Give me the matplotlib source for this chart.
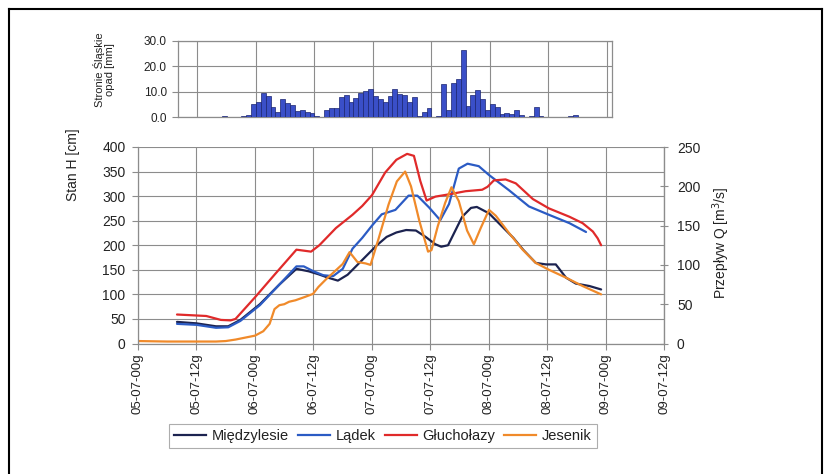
import matplotlib
matplotlib.use("Agg")
import matplotlib.pyplot as plt
import numpy as np
from matplotlib.lines import Line2D

plt.rcParams['font.family'] = ['Liberation Sans', 'DejaVu Sans']

# ---------------- data (hours since 05-07 00:00) ----------------
tick_labels = ["05-07-00g", "05-07-12g", "06-07-00g", "06-07-12g", "07-07-00g",
               "07-07-12g", "08-07-00g", "08-07-12g", "09-07-00g", "09-07-12g"]
tick_hours = [0, 12, 24, 36, 48, 60, 72, 84, 96, 108]

# hourly precipitation, Stronie Śląskie [mm]; first bar covers hour 8-9
precip_start_hour = 8
precip_mm = [0, 0.3, 0.3, 0, 0, 0, 0, 0, 0, 0.4, 0, 0, 0, 0.4, 0.8,
             5.1, 6.0, 9.6, 8.4, 3.9, 2.1, 7.0, 5.5, 4.7, 2.5, 2.8, 2.1, 1.7, 0.5, 0.3,
             2.9, 3.8, 3.5, 8.1, 8.9, 6.1, 7.4, 9.6, 10.3, 11.1, 8.4, 7.2, 6.1, 8.3,
             11.1, 9.3, 8.6, 5.9, 8.0, 0.6, 1.9, 3.7, 0.1, 0.7, 13.0, 3.0, 13.3, 15.0,
             26.5, 4.4, 8.8, 10.5, 7.3, 2.8, 5.4, 4.2, 1.4, 1.5, 1.2, 2.7, 0.8, 0,
             0.5, 4.0, 0.5, 0.1, 0.1, 0, 0.3, 0, 0.7, 0.8]

miedzylesie_h = [8, 12, 16, 18.5, 21, 25, 29, 32.5, 35, 37, 39, 41, 43, 45, 47, 49, 51, 53,
                 55, 57, 59, 61, 62.2, 63.6, 65, 66.5, 68.3, 69.5, 72, 74.7, 77, 79, 81.6,
                 83.7, 85.7, 87.8, 89.8, 92.6, 95]
miedzylesie_v = [44, 41, 35, 35, 48, 80, 120, 152, 147, 141, 134, 128, 140, 160, 180, 200,
                 217, 226, 231, 230, 217, 202, 197, 200, 228, 258, 276, 278, 265, 238, 215,
                 191, 164, 161, 161, 134, 122, 117, 110]

ladek_h = [8, 12, 16, 18.5, 21, 25, 29, 32.5, 34, 36, 38, 40, 42, 44, 46, 48, 50, 52.8,
           55.5, 57.3, 59.7, 62, 63.8, 65.8, 67.6, 69.9, 72, 76.1, 80.2, 84.3, 88.5, 91.9]
ladek_v = [40, 38, 32, 33, 46, 78, 120, 157, 157, 147, 139, 137, 152, 193, 215, 240, 263,
           272, 301, 301, 277, 251, 284, 356, 366, 361, 343, 312, 279, 262, 245, 227]

glucholazy_h = [8, 12, 14, 17, 19, 20, 24, 28, 32.5, 34, 35.5, 37.2, 40.6, 44, 46, 48, 50.7,
                53, 55.2, 56.6, 57.9, 59.2, 61, 64, 67.2, 70.6, 71.7, 73, 75.4, 77.5, 81,
                84.3, 88.5, 91.2, 93.3, 94.3, 95]
glucholazy_v = [59, 57, 56, 48, 47, 50, 94, 140, 191, 189, 187, 200, 235, 262, 280, 302,
                348, 374, 386, 382, 331, 291, 299, 304, 310, 313, 319, 332, 334, 326, 294,
                275, 258, 245, 228, 214, 200]

jesenik_h = [0, 6, 12, 16, 18, 20, 22, 24, 25.7, 27, 28, 29, 30, 31, 32.3, 34.3, 35.9, 37,
             38.6, 40.7, 42, 43.4, 45, 46.7, 47.7, 49.4, 51.4, 53.1, 54.8, 56, 57.7, 59.5,
             60.2, 61.5, 63, 64.3, 65.8, 67.5, 68.9, 70.3, 72, 73.4, 76.1, 78.9, 81.6, 84.3,
             87.8, 91.2, 95]
jesenik_v = [5, 4, 4, 4, 5, 8, 12, 16, 25, 40, 70, 78, 80, 85, 88, 95, 101, 115, 131, 150,
             162, 186, 166, 163, 160, 215, 283, 330, 350, 320, 250, 187, 190, 239, 286, 318,
             290, 230, 202, 235, 272, 260, 225, 191, 164, 150, 134, 117, 100]

series = [("Międzylesie", miedzylesie_h, miedzylesie_v, "#1c2350"),
          ("Lądek", ladek_h, ladek_v, "#2b5bc4"),
          ("Głuchołazy", glucholazy_h, glucholazy_v, "#e02a2a"),
          ("Jesenik", jesenik_h, jesenik_v, "#f08a2a")]

# ---------------- figure ----------------
W, H = 828, 474
fig = plt.figure(figsize=(W / 100, H / 100), dpi=100)
fig.patch.set_facecolor("white")

def fx(px):
    return px / W

def fy(py):
    return 1 - py / H

grid_c = "#8c8c8c"
spine_c = "#8c8c8c"
text_c = "#222222"

# main axes
ax = fig.add_axes([fx(138), fy(343.5), fx(664.5) - fx(138), fy(147) - fy(343.5)])
for name, hh, vv, c in series:
    ax.plot(hh, vv, color=c, lw=1.6, label=name, solid_capstyle="round")
ax.set_xlim(0, 108)
ax.set_ylim(0, 400)
ax.set_yticks(np.arange(0, 401, 50))
ax.set_xticks(tick_hours)
ax.set_xticklabels(tick_labels, rotation=90, fontsize=9.5, color=text_c)
ax.tick_params(axis="y", labelsize=10, length=4, color=spine_c, pad=5, labelcolor=text_c)
ax.tick_params(axis="x", length=4, color=spine_c, pad=3)
ax.grid(True, color=grid_c, lw=0.8)
ax.set_axisbelow(True)
ax.spines["top"].set_visible(False)
for s in ["left", "bottom", "right"]:
    ax.spines[s].set_color(spine_c)
    ax.spines[s].set_linewidth(0.9)

ax2 = ax.twinx()
ax2.set_ylim(0, 250)
ax2.set_yticks(np.arange(0, 251, 50))
ax2.tick_params(axis="y", labelsize=10, length=6, direction="inout", color=spine_c, pad=6,
                labelcolor=text_c)
ax2.spines["top"].set_visible(False)
ax2.spines["right"].set_color(spine_c)
ax2.spines["left"].set_visible(False)
ax2.spines["bottom"].set_visible(False)

fig.text(fx(73), fy(165), "Stan H [cm]", rotation=90, ha="center", va="center", fontsize=10,
         color=text_c)
fig.text(fx(721), fy(243), "Przepływ Q [m$^3$/s]", rotation=90, ha="center", va="center",
         fontsize=10, color=text_c)

# precipitation axes
axb = fig.add_axes([fx(178), fy(117.3), fx(611.7) - fx(178), fy(40.7) - fy(117.3)])
px_hours = precip_start_hour + np.arange(len(precip_mm)) + 0.5
axb.bar(px_hours, precip_mm, width=1.0, color="#3a4fc8", edgecolor="#1a2470", linewidth=0.5,
        zorder=3)
axb.set_xlim(8, 97)
axb.set_ylim(0, 30)
axb.set_yticks([0, 10, 20, 30])
axb.set_yticklabels(["0.0", "10.0", "20.0", "30.0"])
axb.set_xticks(tick_hours[1:9])
axb.tick_params(axis="x", length=0, labelbottom=False)
axb.tick_params(axis="y", labelsize=8.5, length=4, color=spine_c, pad=4, labelcolor=text_c)
axb.grid(True, color=grid_c, lw=0.8)
axb.set_axisbelow(True)
for s in axb.spines.values():
    s.set_color(spine_c)
    s.set_linewidth(0.9)
fig.text(fx(104), fy(70), "Stronie Śląskie\nopad [mm]", rotation=90, ha="center",
         va="center", fontsize=8, linespacing=1.0, color=text_c)

# legend
handles = [Line2D([], [], color=c, lw=1.6) for _, _, _, c in series]
leg = fig.legend(handles, [n for n, _, _, _ in series], loc="center",
                 bbox_to_anchor=(fx(383), fy(436)), ncol=4, fontsize=10.5, frameon=True,
                 fancybox=False, edgecolor="#999999", handlelength=2.2, columnspacing=0.6,
                 handletextpad=0.4, borderpad=0.35)
leg.get_frame().set_linewidth(0.8)
for t in leg.get_texts():
    t.set_color(text_c)

# outer border
for xs, ys in [((9, 9), (9, 474)), ((9, 822), (9, 9)), ((822, 822), (9, 474))]:
    fig.add_artist(Line2D([fx(x) for x in xs], [fy(y) for y in ys], color="black", lw=1.5))

fig.savefig("out.png", dpi=100)
